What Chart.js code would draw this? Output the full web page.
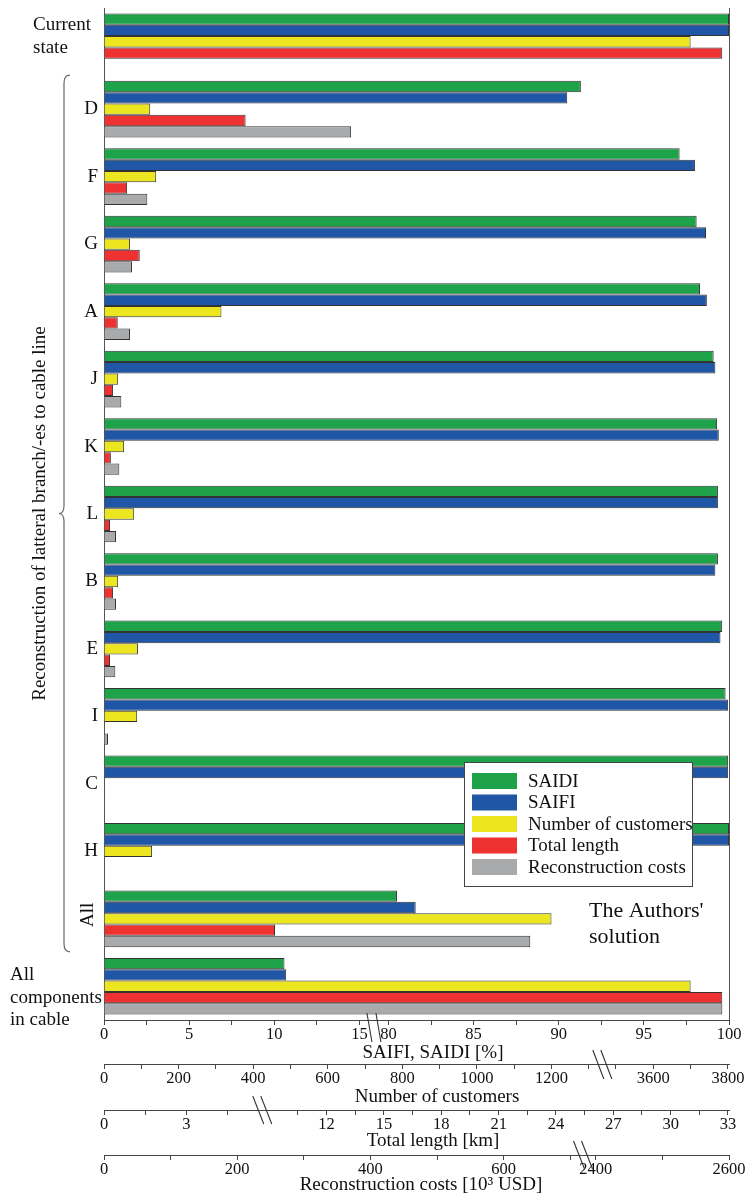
<!DOCTYPE html>
<html>
<head>
<meta charset="utf-8">
<script src="https://cdn.jsdelivr.net/npm/chart.js@4.4.0/dist/chart.umd.min.js"></script>
<style>
  html, body { margin: 0; padding: 0; background: #fff; overflow: hidden; }
  #wrap { width: 749px; height: 1193px; }
</style>
</head>
<body>
<div id="wrap"><canvas id="chart"></canvas></div>
<script>
// values
var categories = ['Current state', 'D', 'F', 'G', 'A', 'J', 'K', 'L', 'B', 'E', 'I', 'C', 'H', 'All', 'All components in cable']
var saidi     = [100, 91.3, 97.1, 98.1, 98.3, 99.1, 99.3, 99.35, 99.35, 99.6, 99.8, 99.95, 100, 80.5, 10.6]
var saifi     = [100, 90.5, 98.0, 98.65, 98.7, 99.2, 99.4, 99.35, 99.2, 99.5, 99.95, 99.95, 100, 81.6, 10.7]
var customers = [3700, 124, 140, 70, 315, 38, 54, 81, 38, 91, 89, null, 129, 1200, 3700]
var lengthKm  = [32.7, 5.15, 0.84, 1.3, 0.5, 0.33, 0.25, 0.22, 0.33, 0.22, 0.04, null, null, 9.3, 32.7]
var costs     = [null, 371, 65, 42, 39, 26, 23, 18, 18, 17, 6, 1.5, null, 640, 2590]

var seriesNames = ['SAIDI', 'SAIFI', 'Number of customers', 'Total length', 'Reconstruction costs']
var seriesColors = ['#1ea34b', '#1f57a6', '#ebe61f', '#ee3131', '#a8aaac']

// broken axes: [value, position on a 0..624 track]
const TRACK = 624
var saiStops  = [[0, 0], [15, 255], [80, 284], [100, 624]]
var custStops = [[0, 0], [1300, 484], [3500, 511], [3800, 623]]
var lenStops  = [[0, 0], [5.5, 151], [9, 165], [33, 623]]
var costStops = [[0, 0], [700, 465.5], [2400, 491], [2600, 624]]

var saiMajor = [0, 5, 10, 15, 80, 85, 90, 95, 100]
var saiMinor = [2.5, 7.5, 12.5, 82.5, 87.5, 92.5, 97.5]
var custMajor = [0, 200, 400, 600, 800, 1000, 1200, 3600, 3800]
var custMinor = [100, 300, 500, 700, 900, 1100, 1300, 3500, 3700]
var lenMajor = [0, 3, 12, 15, 18, 21, 24, 27, 30, 33]
var lenMinor = [1.5, 4.5, 10.5, 13.5, 16.5, 19.5, 22.5, 25.5, 28.5, 31.5]
var costMajor = [0, 200, 400, 600, 2400, 2600]
var costMinor = [100, 300, 500, 700, 2500]

const serif = "'Liberation Serif', 'Times New Roman', serif"

function track(stops, v) {
    if (v === null) return null
    for (var i = 1; i < stops.length; i++) {
        if (v <= stops[i][0]) {
            var a = stops[i - 1], b = stops[i]
            return a[1] + (v - a[0]) / (b[0] - a[0]) * (b[1] - a[1])
        }
    }
    return stops[stops.length - 1][1]
}

function makeAxis(stops, majors, minors, weight, height) {
    var list = majors.map(v => ({v: v, label: String(v)}))
        .concat(minors.map(v => ({v: v, label: ''})))
    list.sort((a, b) => a.v - b.v)
    return {
        type: 'linear',
        position: 'bottom',
        weight: weight,
        min: 0,
        max: TRACK,
        afterBuildTicks: s => { s.ticks = list.map(t => ({value: track(stops, t.v)})) },
        afterFit: s => { s.height = height },
        ticks: {
            autoSkip: false, maxRotation: 0, padding: 0, color: '#111',
            font: {family: serif, size: 16.5},
            callback: (val, i) => list[i] ? list[i].label : ''
        },
        grid: {drawOnChartArea: false, tickLength: 5, color: '#444'},
        border: {display: true, color: '#444', width: 1}
    }
}

var axisIds = ['xs', 'xs', 'xc', 'xl', 'xr']
var seriesData = [
    saidi.map(v => track(saiStops, v)),
    saifi.map(v => track(saiStops, v)),
    customers.map(v => track(custStops, v)),
    lengthKm.map(v => track(lenStops, v)),
    costs.map(v => track(costStops, v))
]

// axis titles and break marks
var axisInfo = [
    {id: 'xs', title: 'SAIFI, SAIDI [%]', cx: 433, dy: 11, stops: saiStops, up: 7, down: 22, dx: 5, sep: 9},
    {id: 'xc', title: 'Number of customers', cx: 437, dy: 13, stops: custStops, up: 14, down: 15, dx: 11, sep: 8},
    {id: 'xl', title: 'Total length [km]', cx: 433, dy: 14, stops: lenStops, up: 14, down: 14, dx: 11, sep: 8},
    {id: 'xr', title: 'Reconstruction costs [10\u00b3 USD]', cx: 421, dy: 8, stops: costStops, up: 14, down: 14, dx: 11, sep: 8}
]

var decor = {
    id: 'decor',
    afterDatasetsDraw(chart) {
        var ctx = chart.ctx
        var area = chart.chartArea
        var y = chart.scales.y
        ctx.save()

        // right frame line
        ctx.strokeStyle = '#555'
        ctx.lineWidth = 1
        ctx.beginPath()
        ctx.moveTo(area.right + 0.5, area.top)
        ctx.lineTo(area.right + 0.5, area.bottom)
        ctx.stroke()

        // legend box
        ctx.fillStyle = '#fff'
        ctx.fillRect(464, 762, 229, 125)
        ctx.strokeStyle = '#444'
        ctx.strokeRect(464.5, 762.5, 228, 124)
        ctx.font = '19px ' + serif
        ctx.textBaseline = 'middle'
        ctx.textAlign = 'left'
        for (var k = 0; k < seriesNames.length; k++) {
            var yy = 773 + k * 21.5
            ctx.fillStyle = seriesColors[k]
            ctx.fillRect(472, yy, 45, 16)
            ctx.fillStyle = '#111'
            ctx.fillText(seriesNames[k], 528, yy + 9)
        }

        // note
        ctx.font = '22px ' + serif
        ctx.textBaseline = 'alphabetic'
        ctx.fillText("The Authors'", 589, 917)
        ctx.fillText('solution', 589, 943)

        // category labels
        ctx.fillStyle = '#111'
        ctx.font = '19px ' + serif
        ctx.textBaseline = 'middle'
        categories.forEach(function(c, i) {
            var cy = y.getPixelForValue(i)
            if (i === 0) {
                ctx.textAlign = 'left'
                ctx.fillText('Current', 33, cy - 17)
                ctx.fillText('state', 33, cy + 6)
            } else if (i === categories.length - 1) {
                ctx.textAlign = 'left'
                ctx.fillText('All', 10, cy - 11)
                ctx.fillText('components', 10, cy + 12)
                ctx.fillText('in cable', 10, cy + 34)
            } else if (c === 'All') {
                ctx.save()
                ctx.translate(88, cy - 4)
                ctx.rotate(-Math.PI / 2)
                ctx.textAlign = 'center'
                ctx.fillText(c, 0, 0)
                ctx.restore()
            } else {
                ctx.textAlign = 'right'
                ctx.fillText(c, 98, cy)
            }
        })

        // brace around the branch groups
        var top = y.getPixelForValue(1) - 34
        var bot = y.getPixelForValue(13) + 33
        var mid = (top + bot) / 2
        ctx.strokeStyle = '#666'
        ctx.lineWidth = 1.2
        ctx.beginPath()
        ctx.moveTo(70, top)
        ctx.quadraticCurveTo(64, top, 64, top + 8)
        ctx.lineTo(64, mid - 8)
        ctx.quadraticCurveTo(64, mid, 59, mid)
        ctx.quadraticCurveTo(64, mid, 64, mid + 8)
        ctx.lineTo(64, bot - 8)
        ctx.quadraticCurveTo(64, bot, 70, bot)
        ctx.stroke()

        ctx.save()
        ctx.translate(40, mid)
        ctx.rotate(-Math.PI / 2)
        ctx.textAlign = 'center'
        ctx.fillStyle = '#111'
        ctx.font = '19px ' + serif
        ctx.fillText('Reconstruction of latteral branch/-es to cable line', 0, 0)
        ctx.restore()

        // axis titles and break marks
        axisInfo.forEach(function(b) {
            var s = chart.scales[b.id]
            ctx.fillStyle = '#111'
            ctx.font = '19px ' + serif
            ctx.textAlign = 'center'
            ctx.textBaseline = 'middle'
            ctx.fillText(b.title, b.cx, s.bottom - b.dy)

            var p = (b.stops[1][1] + b.stops[2][1]) / 2
            var x = s.getPixelForValue(p)
            ctx.strokeStyle = '#333'
            ctx.lineWidth = 1.1
            for (var j = -1; j <= 1; j += 2) {
                var x0 = x + j * b.sep / 2 - b.dx / 2
                ctx.beginPath()
                ctx.moveTo(x0, s.top - b.up)
                ctx.lineTo(x0 + b.dx, s.top + b.down)
                ctx.stroke()
            }
        })
        ctx.restore()
    }
}

var ctx = document.getElementById('chart').getContext('2d')

var chart = new Chart(ctx, {
    type: 'bar',
    data: {
        labels: categories,
        datasets: seriesNames.map(function(name, k) {
            return {
                label: name,
                data: seriesData[k],
                xAxisID: axisIds[k],
                backgroundColor: seriesColors[k],
                borderColor: '#333',
                borderWidth: 1,
                categoryPercentage: 0.84,
                barPercentage: 1.0
            }
        })
    },
    options: {
        indexAxis: 'y',
        responsive: true,
        maintainAspectRatio: false,
        animation: false,
        layout: {padding: {top: 8, right: 20, left: 0, bottom: 0}},
        plugins: {legend: {display: false}, tooltip: {enabled: false}},
        scales: {
            y: {
                type: 'category',
                afterFit: s => { s.width = 104 },
                ticks: {display: false},
                grid: {display: false},
                border: {display: true, color: '#555', width: 1}
            },
            xs: makeAxis(saiStops, saiMajor, saiMinor, 0, 44),
            xc: makeAxis(custStops, custMajor, custMinor, 1, 46),
            xl: makeAxis(lenStops, lenMajor, lenMinor, 2, 45),
            xr: makeAxis(costStops, costMajor, costMinor, 3, 38)
        }
    },
    plugins: [decor]
})
</script>
</body>
</html>
